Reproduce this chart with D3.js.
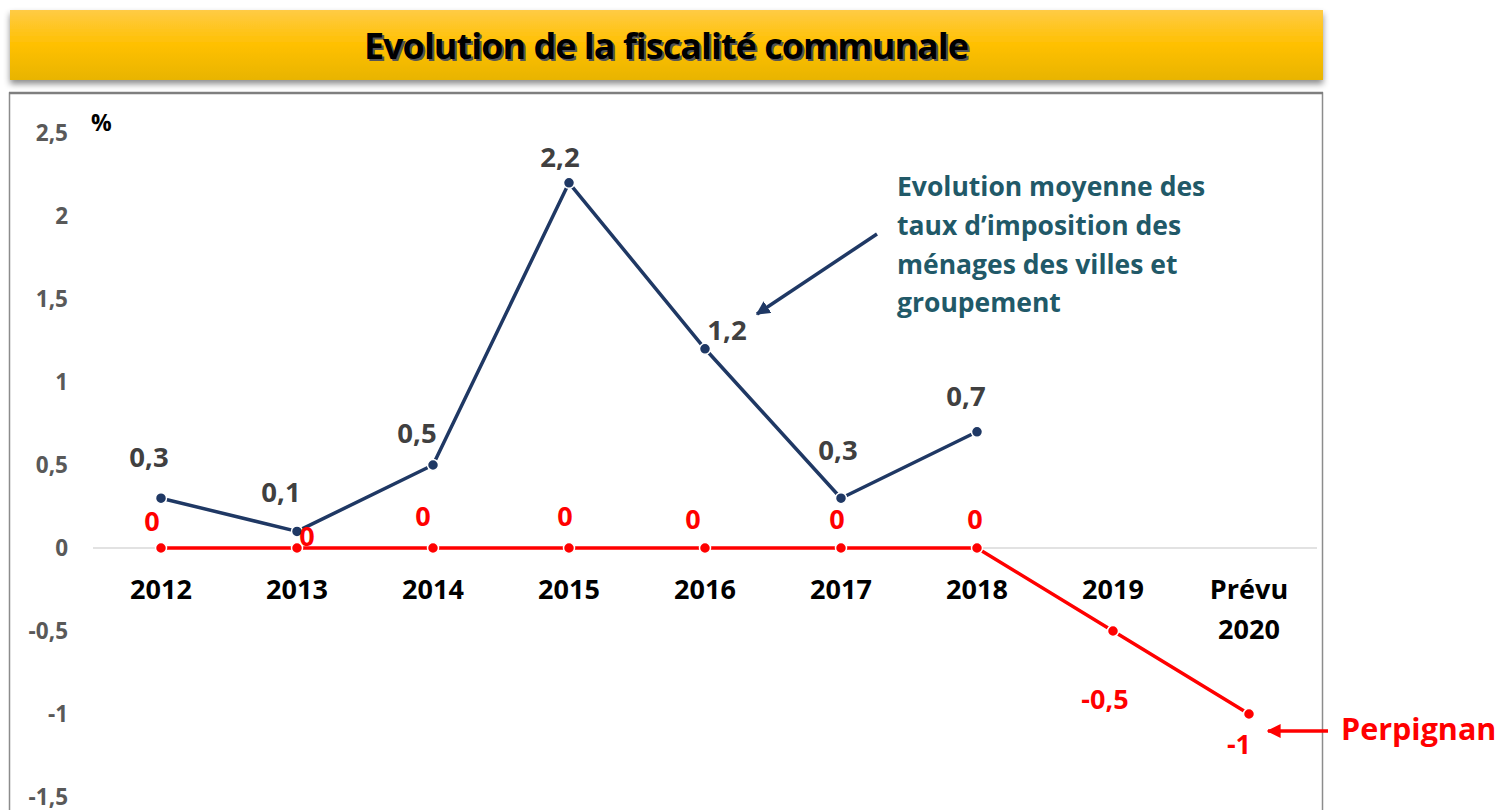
<!DOCTYPE html>
<html>
<head>
<meta charset="utf-8">
<script src="https://cdn.jsdelivr.net/npm/d3@7"></script>
<style>
  body{margin:0;background:#fff;}
  svg{display:block;font-family:"Open Sans","Noto Sans",sans-serif;}
</style>
</head>
<body>
<svg id="chart" width="1501" height="810"></svg>
<script>
const categories=['2012','2013','2014','2015','2016','2017','2018','2019','Prévu 2020']
const villes=[0.3,0.1,0.5,2.2,1.2,0.3,0.7]
const perpignan=[0,0,0,0,0,0,0,-0.5,-1]
const yTicks=[2.5,2,1.5,1,0.5,0,-0.5,-1,-1.5]
const title='Evolution de la fiscalité communale'
const noteLines=['Evolution moyenne des','taux d’imposition des','ménages des villes et','groupement']

const fmt=d=>String(d).replace('.',',')
const navy='#1f3864', red='#ff0000'

const svg=d3.select('#chart')
const defs=svg.append('defs')
const grad=defs.append('linearGradient').attr('id','gold').attr('x1',0).attr('y1',0).attr('x2',0).attr('y2',1)
grad.append('stop').attr('offset','0%').attr('stop-color','#ffcb45')
grad.append('stop').attr('offset','50%').attr('stop-color','#ffc000')
grad.append('stop').attr('offset','100%').attr('stop-color','#e8b400')
const sh=defs.append('filter').attr('id','shadow').attr('x','-5%').attr('y','-20%').attr('width','110%').attr('height','160%')
sh.append('feDropShadow').attr('dx',0).attr('dy',4).attr('stdDeviation',3).attr('flood-color','#000').attr('flood-opacity',0.45)
;[['arrowNavy',navy],['arrowRed',red]].forEach(([id,c])=>{
  defs.append('marker').attr('id',id).attr('viewBox','0 0 10 10').attr('refX',9).attr('refY',5)
    .attr('markerWidth',4).attr('markerHeight',4).attr('orient','auto-start-reverse')
    .append('path').attr('d','M0,0L10,5L0,10z').attr('fill',c)
})

// title banner
svg.append('rect').attr('x',10).attr('y',10).attr('width',1313).attr('height',70)
  .attr('fill','url(#gold)').attr('filter','url(#shadow)')
svg.append('text').attr('x',668).attr('y',61).attr('text-anchor','middle')
  .attr('font-size',36).attr('font-weight','bold').attr('letter-spacing',-1).attr('fill','#555')
  .text(title)
svg.append('text').attr('x',666).attr('y',59).attr('text-anchor','middle')
  .attr('font-size',36).attr('font-weight','bold').attr('letter-spacing',-1).attr('fill','#000')
  .text(title)

// chart frame
svg.append('rect').attr('x',9.5).attr('y',93).attr('width',1313).attr('height',740)
  .attr('fill','#fff').attr('stroke','#8c8c8c').attr('stroke-width',1.5)
svg.append('line').attr('x1',9).attr('x2',1323).attr('y1',93).attr('y2',93).attr('stroke','#7f7f7f').attr('stroke-width',2.5)

const x=d3.scalePoint().domain(categories).range([161,1249])
const y=d3.scaleLinear().domain([-1.5,2.5]).range([797,133])

// y axis labels
const yAxis=d3.axisLeft(y).tickValues(yTicks).tickFormat(fmt).tickSize(0).tickPadding(0)
const ga=svg.append('g').attr('transform','translate(68,0)').call(yAxis)
ga.select('.domain').remove()
ga.selectAll('text').attr('font-size',22.5).attr('font-weight','bold').attr('fill','#595959')
  .attr('font-family','"Open Sans",sans-serif').attr('dy','0.35em')

svg.append('text').attr('x',91).attr('y',123).attr('dy','0.35em').attr('font-size',23).attr('font-weight','bold').text('%')

// zero line
svg.append('line').attr('x1',93).attr('x2',1317).attr('y1',y(0)).attr('y2',y(0))
  .attr('stroke','#d9d9d9').attr('stroke-width',1.5)

// x category labels
const xl=svg.append('g')
categories.forEach(c=>{
  const parts=c.split(' ')
  parts.forEach((p,i)=>xl.append('text').attr('x',x(c)).attr('y',590+i*40).attr('dy','0.35em')
    .attr('text-anchor','middle').attr('font-size',27).attr('font-weight','bold').attr('fill','#000').text(p))
})

const line=d3.line().x((d,i)=>x(categories[i])).y(d=>y(d))

// Perpignan series
svg.append('path').datum(perpignan).attr('d',line).attr('fill','none')
  .attr('stroke',red).attr('stroke-width',3.5).attr('stroke-linejoin','round')
svg.selectAll('.pr').data(perpignan).join('circle').attr('class','pr')
  .attr('cx',(d,i)=>x(categories[i])).attr('cy',d=>y(d)).attr('r',5.5)
  .attr('fill',red).attr('stroke','#fff').attr('stroke-width',1.5)

// villes series
svg.append('path').datum(villes).attr('d',line).attr('fill','none')
  .attr('stroke',navy).attr('stroke-width',3.5).attr('stroke-linejoin','round')
svg.selectAll('.pv').data(villes).join('circle').attr('class','pv')
  .attr('cx',(d,i)=>x(categories[i])).attr('cy',d=>y(d)).attr('r',5.5)
  .attr('fill',navy).attr('stroke','#fff').attr('stroke-width',1.5)

// data labels (offsets relative to the point)
const villesOff=[[-12,-41],[-16,-39],[-16,-32],[-9,-25],[22,-18],[-3,-48],[-11,-35]]
svg.selectAll('.lv').data(villes).join('text').attr('class','lv')
  .attr('x',(d,i)=>x(categories[i])+villesOff[i][0]).attr('y',(d,i)=>y(d)+villesOff[i][1])
  .attr('text-anchor','middle').attr('dy','0.35em')
  .attr('font-size',27.5).attr('font-weight','bold').attr('fill','#404040').text(fmt)

const perpOff=[[-9,-26],[10,-11],[-10,-31],[-4,-31],[-12,-28],[-4,-28],[-2,-28],[-8,69],[-10,31]]
svg.selectAll('.lp').data(perpignan).join('text').attr('class','lp')
  .attr('x',(d,i)=>x(categories[i])+perpOff[i][0]).attr('y',(d,i)=>y(d)+perpOff[i][1])
  .attr('text-anchor','middle').attr('dy','0.35em')
  .attr('font-size',27).attr('font-weight','bold').attr('fill',red).text(fmt)

// annotation for villes
noteLines.forEach((l,i)=>svg.append('text').attr('x',897).attr('y',187+i*38.7).attr('dy','0.35em')
  .attr('font-size',26.5).attr('font-weight','bold').attr('fill','#215968').text(l))
svg.append('line').attr('x1',877).attr('y1',234).attr('x2',757).attr('y2',314)
  .attr('stroke',navy).attr('stroke-width',3.5).attr('marker-end','url(#arrowNavy)')

// Perpignan label
svg.append('line').attr('x1',1328).attr('y1',731).attr('x2',1268).attr('y2',731)
  .attr('stroke',red).attr('stroke-width',3.5).attr('marker-end','url(#arrowRed)')
svg.append('text').attr('x',1341).attr('y',729).attr('dy','0.35em').attr('font-size',30.5)
  .attr('font-weight','bold').attr('fill',red).text('Perpignan')
</script>
</body>
</html>
